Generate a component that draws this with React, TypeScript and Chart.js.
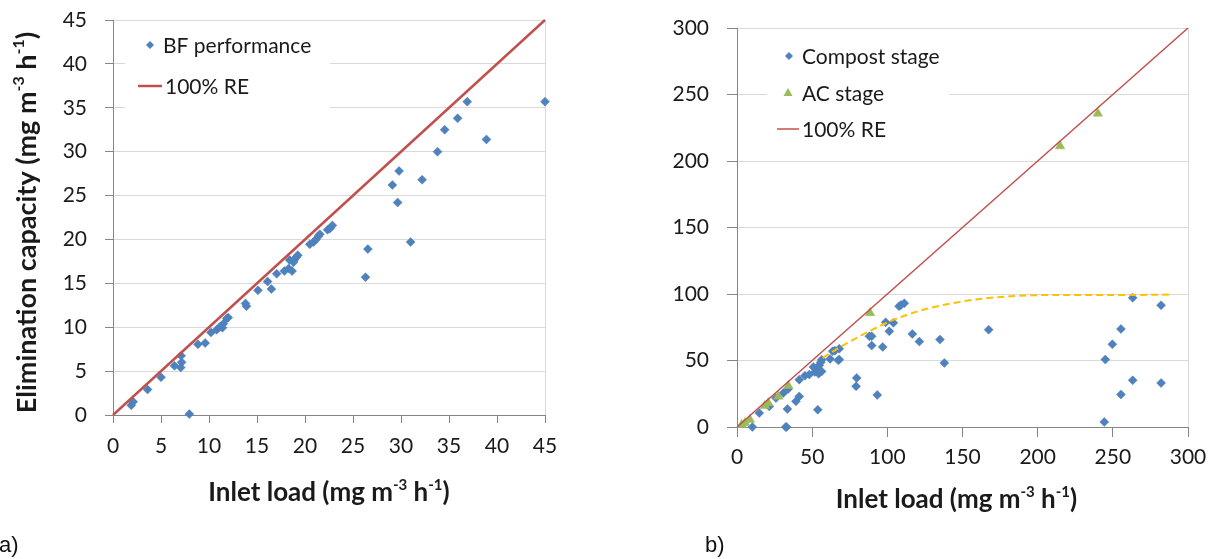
import React, { useEffect, useRef } from 'react';
import { Chart, registerables } from 'chart.js';
Chart.register(...registerables);

const FONT = 'Lato, "Open Sans", sans-serif';
const BLUE = '#4f81bd';
const GREEN = '#9bbb59';
const RED = '#c0504d';
const GOLD = '#ffc000';
const AXIS = '#868686';
const GRID = '#d9d9d9';
const TEXT = '#1a1a1a';

// ---- Chart a data ----
const bfInlet = [1.9, 2.1, 3.6, 5.0, 6.4, 7.05, 7.15, 7.1, 7.95, 8.85, 9.6, 10.2, 10.8, 11.15, 11.4, 11.5, 11.85, 12.0, 13.8, 13.9, 15.1, 16.1, 16.5, 17.05, 17.85, 18.3, 18.65, 18.4, 18.9, 19.1, 19.25, 18.8, 20.5, 20.9, 21.15, 21.4, 21.55, 22.35, 22.6, 22.85, 26.3, 26.55, 29.65, 29.1, 29.8, 31.0, 32.2, 33.8, 34.55, 35.9, 36.9, 38.9, 45.0];
const bfEC = [1.1, 1.5, 2.9, 4.3, 5.6, 5.4, 6.0, 6.75, 0.1, 8.05, 8.2, 9.4, 9.7, 10.05, 9.95, 10.4, 11.0, 11.1, 12.7, 12.4, 14.2, 15.2, 14.35, 16.1, 16.4, 16.7, 16.4, 17.65, 17.7, 18.0, 18.2, 17.4, 19.45, 19.7, 20.0, 20.4, 20.6, 21.1, 21.25, 21.6, 15.7, 18.9, 24.2, 26.2, 27.8, 19.7, 26.8, 30.0, 32.5, 33.8, 35.7, 31.4, 35.7];
const reLineA = [0, 45];
const ticksA = [0, 5, 10, 15, 20, 25, 30, 35, 40, 45];

// ---- Chart b data ----
const compostInlet = [10.2, 14.8, 21.5, 25.9, 30.8, 32.4, 33, 33.5, 34, 39.2, 41.4, 41.4, 45.2, 48.1, 50.8, 51.8, 53.4, 54.7, 55.7, 56.3, 54.3, 56.3, 53.7, 61.9, 63.6, 65.1, 68, 67.4, 68, 79.2, 79.6, 88, 89.6, 89.6, 93.3, 96.9, 98.9, 101.3, 104, 107.8, 109.1, 111.3, 116.6, 121.3, 135, 137.9, 167.4, 263.2, 282.1, 255.4, 249.7, 245, 263.2, 282.1, 255.4, 244.3];
const compostEC = [0, 10.5, 15.5, 21.8, 25.6, 0, 0, 13.5, 28.6, 19.3, 23.0, 35.6, 38.6, 39.4, 45.2, 41.4, 43.1, 46.4, 48.6, 50.6, 40.1, 41.8, 13, 51.2, 56.9, 57.4, 58.9, 50.1, 50.7, 30.6, 36.9, 68.2, 68.2, 61.2, 24.1, 60.2, 78.7, 72, 78.3, 90.8, 91.8, 93, 70, 64.2, 65.7, 48.2, 73.2, 97.1, 91.5, 73.7, 62.2, 50.7, 35.1, 33.1, 24.5, 3.8];
const acInlet = [3.1, 5.3, 8.6, 18.6, 20.8, 27.5, 34.1, 88.5, 214.9, 240];
const acEC = [1.7, 3, 5.5, 16, 18, 23, 31, 85.8, 211.2, 235.8];
const fitInlet = [57, 70, 88, 104, 125, 148, 162, 182, 205, 230, 260, 289];
const fitEC = [52, 61, 72, 80.5, 88.5, 94, 96.3, 98.3, 99.2, 99.3, 99.3, 99.6];
const reLineB = [0, 300];
const ticksB = [0, 50, 100, 150, 200, 250, 300];

const titleSegs = [
  { t: 'Inlet load (mg m' },
  { t: '-3', sup: true },
  { t: ' h' },
  { t: '-1', sup: true },
  { t: ')' },
];
const yTitleSegs = [
  { t: 'Elimination capacity (mg m' },
  { t: '-3', sup: true },
  { t: ' h' },
  { t: '-1', sup: true },
  { t: ')' },
];

const pts = (xs: number[], ys: number[]) => xs.map((x, i) => ({ x, y: ys[i] }));

function drawSegs(ctx: CanvasRenderingContext2D, segs: { t: string; sup?: boolean }[], cx: number, cy: number, size: number, rotate: boolean) {
  ctx.save();
  ctx.translate(cx, cy);
  if (rotate) ctx.rotate(-Math.PI / 2);
  const supSize = Math.round(size * 0.58);
  let total = 0;
  const widths: number[] = [];
  for (const s of segs) {
    ctx.font = `bold ${s.sup ? supSize : size}px ${FONT}`;
    const w = ctx.measureText(s.t).width;
    widths.push(w);
    total += w;
  }
  let x = -total / 2;
  ctx.textBaseline = 'middle';
  ctx.textAlign = 'left';
  ctx.fillStyle = TEXT;
  segs.forEach((s, i) => {
    ctx.font = `bold ${s.sup ? supSize : size}px ${FONT}`;
    ctx.fillText(s.t, x, s.sup ? -size * 0.3 : 0);
    x += widths[i];
  });
  ctx.restore();
}

type LegendItem = { kind: 'diamond' | 'triangle' | 'line'; color: string; text: string; mx: number; tx: number; y: number; lw?: number; mx2?: number };

function makeDecor(opts: { box: [number, number, number, number]; legend: LegendItem[]; legendSize: number; xTitleY: number; xTitleDx: number; titleSize: number; yTitleX?: number }) {
  return {
    id: 'decor',
    beforeDatasetsDraw(chart: any) {
      const { ctx, chartArea } = chart;
      ctx.save();
      ctx.strokeStyle = GRID;
      ctx.lineWidth = 1;
      ctx.beginPath();
      ctx.moveTo(Math.round(chartArea.right) + 0.5, chartArea.top);
      ctx.lineTo(Math.round(chartArea.right) + 0.5, chartArea.bottom);
      ctx.stroke();
      const [bx, by, bw, bh] = opts.box;
      ctx.fillStyle = '#ffffff';
      ctx.fillRect(bx, by, bw, bh);
      ctx.restore();
    },
    afterDraw(chart: any) {
      const { ctx, chartArea } = chart;
      ctx.save();
      for (const it of opts.legend) {
        ctx.fillStyle = it.color;
        ctx.strokeStyle = it.color;
        if (it.kind === 'diamond') {
          const r = 4;
          ctx.beginPath();
          ctx.moveTo(it.mx - r, it.y);
          ctx.lineTo(it.mx, it.y - r);
          ctx.lineTo(it.mx + r, it.y);
          ctx.lineTo(it.mx, it.y + r);
          ctx.closePath();
          ctx.fill();
        } else if (it.kind === 'triangle') {
          const r = 5;
          ctx.beginPath();
          ctx.moveTo(it.mx, it.y - r);
          ctx.lineTo(it.mx + r * 0.9, it.y + r * 0.6);
          ctx.lineTo(it.mx - r * 0.9, it.y + r * 0.6);
          ctx.closePath();
          ctx.fill();
        } else {
          ctx.lineWidth = it.lw || 2;
          ctx.beginPath();
          ctx.moveTo(it.mx, it.y);
          ctx.lineTo(it.mx2 || it.mx + 24, it.y);
          ctx.stroke();
        }
        ctx.fillStyle = TEXT;
        ctx.font = `${opts.legendSize}px ${FONT}`;
        ctx.textBaseline = 'middle';
        ctx.textAlign = 'left';
        ctx.fillText(it.text, it.tx, it.y + 1);
      }
      ctx.restore();
      const cx = (chartArea.left + chartArea.right) / 2 + opts.xTitleDx;
      drawSegs(ctx, titleSegs, cx, opts.xTitleY, opts.titleSize, false);
      if (opts.yTitleX !== undefined) {
        const cy = (chartArea.top + chartArea.bottom) / 2;
        drawSegs(ctx, yTitleSegs, opts.yTitleX, cy + 5, opts.titleSize + 1, true);
      }
    },
  };
}

function scaleOpts(min: number, max: number, ticks: number[], isX: boolean, tickLength: number, padding: number, fitSize: number) {
  return {
    type: 'linear',
    min,
    max,
    afterBuildTicks: (s: any) => {
      s.ticks = ticks.map((v) => ({ value: v }));
    },
    afterFit: (s: any) => {
      if (isX) s.height = fitSize;
      else s.width = fitSize;
      s.paddingTop = 0;
      s.paddingBottom = 0;
      s.paddingLeft = 0;
      s.paddingRight = 0;
    },
    ticks: {
      padding,
      color: TEXT,
      font: { family: FONT, size: 21 },
      maxRotation: 0,
      autoSkip: false,
    },
    grid: isX
      ? { drawOnChartArea: false, drawTicks: true, tickLength, tickColor: AXIS }
      : { color: GRID, drawTicks: true, tickLength, tickColor: AXIS },
    border: { color: AXIS, width: 1 },
  };
}

function ChartA() {
  const ref = useRef<HTMLCanvasElement>(null);
  useEffect(() => {
    const chart = new Chart(ref.current!, {
      type: 'scatter',
      data: {
        datasets: [
          {
            label: '100% RE',
            data: pts(reLineA, reLineA),
            showLine: true,
            borderColor: RED,
            borderWidth: 2.5,
            pointRadius: 0,
            clip: false,
          } as any,
          {
            label: 'BF performance',
            data: pts(bfInlet, bfEC),
            pointStyle: 'rectRot',
            pointRadius: 4.5,
            backgroundColor: BLUE,
            borderColor: BLUE,
            borderWidth: 0.5,
            clip: false,
          } as any,
        ],
      },
      options: {
        responsive: false,
        animation: false,
        layout: { padding: { left: 0, top: 20, right: 55, bottom: 0 } },
        plugins: { legend: { display: false }, tooltip: { enabled: false } },
        scales: {
          x: scaleOpts(0, 45, ticksA, true, 8, 11, 144) as any,
          y: scaleOpts(0, 45, ticksA, false, 8, 18, 113) as any,
        },
      },
      plugins: [
        makeDecor({
          box: [125, 26, 205, 90],
          legend: [
            { kind: 'diamond', color: BLUE, text: 'BF performance', mx: 150, tx: 163, y: 45 },
            { kind: 'line', color: RED, text: '100% RE', mx: 138, mx2: 162, tx: 165, y: 86, lw: 2.5 },
          ],
          legendSize: 21,
          xTitleY: 493,
          xTitleDx: 0,
          titleSize: 26,
          yTitleX: 27,
        }) as any,
      ],
    });
    return () => chart.destroy();
  }, []);
  return <canvas ref={ref} width={600} height={559} style={{ position: 'absolute', left: 0, top: 0, width: 600, height: 559 }} />;
}

function ChartB() {
  const ref = useRef<HTMLCanvasElement>(null);
  useEffect(() => {
    const chart = new Chart(ref.current!, {
      type: 'scatter',
      data: {
        datasets: [
          {
            label: '100% RE',
            data: pts(reLineB, reLineB),
            showLine: true,
            borderColor: RED,
            borderWidth: 1.5,
            pointRadius: 0,
            clip: false,
          } as any,
          {
            label: 'AC stage',
            data: pts(acInlet, acEC),
            pointStyle: 'triangle',
            pointRadius: 5.5,
            backgroundColor: GREEN,
            borderColor: GREEN,
            borderWidth: 0.5,
            clip: false,
          } as any,
          {
            label: 'fit',
            data: pts(fitInlet, fitEC),
            showLine: true,
            borderColor: GOLD,
            borderWidth: 2,
            borderDash: [7, 4],
            pointRadius: 0,
            tension: 0.4,
            cubicInterpolationMode: 'monotone',
            clip: false,
          } as any,
          {
            label: 'Compost stage',
            data: pts(compostInlet, compostEC),
            pointStyle: 'rectRot',
            pointRadius: 4.5,
            backgroundColor: BLUE,
            borderColor: BLUE,
            borderWidth: 0.5,
            clip: false,
          } as any,
        ],
      },
      options: {
        responsive: false,
        animation: false,
        layout: { padding: { left: 0, top: 28, right: 29, bottom: 0 } },
        plugins: { legend: { display: false }, tooltip: { enabled: false } },
        scales: {
          x: scaleOpts(0, 300, ticksB, true, 10, 8, 132) as any,
          y: scaleOpts(0, 300, ticksB, false, 10, 18, 137) as any,
        },
      },
      plugins: [
        makeDecor({
          box: [167, 36, 182, 112],
          legend: [
            { kind: 'diamond', color: BLUE, text: 'Compost stage', mx: 189, tx: 202, y: 56 },
            { kind: 'triangle', color: GREEN, text: 'AC stage', mx: 188, tx: 202, y: 93 },
            { kind: 'line', color: RED, text: '100% RE', mx: 177, mx2: 199, tx: 202, y: 129, lw: 1.5 },
          ],
          legendSize: 21,
          xTitleY: 500,
          xTitleDx: -6,
          titleSize: 26,
        }) as any,
      ],
    });
    return () => chart.destroy();
  }, []);
  return <canvas ref={ref} width={617} height={559} style={{ position: 'absolute', left: 600, top: 0, width: 617, height: 559 }} />;
}

export default function App() {
  const lbl: React.CSSProperties = { position: 'absolute', fontFamily: '"Liberation Sans", Arial, sans-serif', fontSize: 22, color: '#111', lineHeight: '24px' };
  return (
    <div style={{ position: 'fixed', left: 0, top: 0, width: 1217, height: 559, background: '#fff', overflow: 'hidden' }}>
      <ChartA />
      <ChartB />
      <div style={{ ...lbl, left: -1, top: 533 }}>a)</div>
      <div style={{ ...lbl, left: 705, top: 533 }}>b)</div>
    </div>
  );
}
